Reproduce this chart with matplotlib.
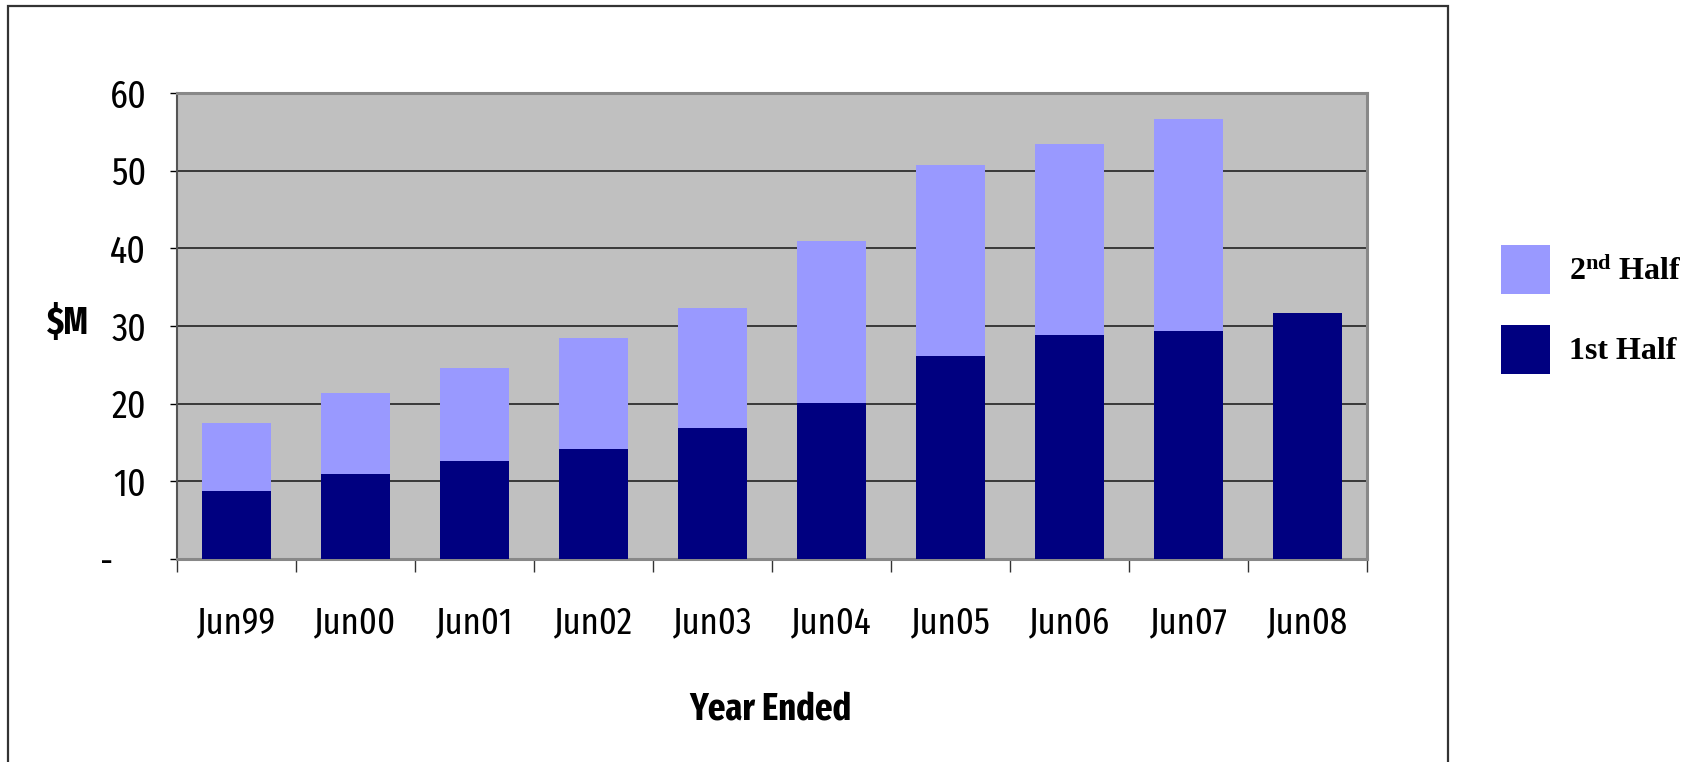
import numpy as np
import matplotlib.pyplot as plt
from matplotlib.patches import Rectangle

plt.rcParams.update({
    'font.family': ['Fira Sans Extra Condensed', 'Roboto Condensed', 'DejaVu Sans'],
    'font.stretch': 'condensed',
    'mathtext.fontset': 'custom',
    'mathtext.rm': 'Liberation Serif:bold',
    'mathtext.it': 'Liberation Serif:bold',
    'mathtext.bf': 'Liberation Serif:bold',
})

# Revenue by financial year, split into halves ($M)
years = ['Jun99', 'Jun00', 'Jun01', 'Jun02', 'Jun03',
         'Jun04', 'Jun05', 'Jun06', 'Jun07', 'Jun08']
first_half = [8.8, 11.0, 12.6, 14.2, 16.9, 20.1, 26.2, 28.9, 29.4, 31.7]
second_half = [8.7, 10.4, 12.0, 14.2, 15.4, 20.8, 24.5, 24.5, 27.2, 0.0]
y_ticks = [0, 10, 20, 30, 40, 50, 60]
y_tick_labels = ['-    ', '10', '20', '30', '40', '50', '60']

W, H = 1695, 762
fig = plt.figure(figsize=(W / 100, H / 100), dpi=100)
ax = fig.add_axes([177 / W, 1 - 559 / H, 1190 / W, 466 / H])
ax.set_facecolor('#C0C0C0')

x = np.arange(len(years))
b1 = ax.bar(x, first_half, width=0.58, color='#000080', zorder=3)
b2 = ax.bar(x, second_half, width=0.58, bottom=first_half, color='#9999FF', zorder=3)

ax.set_xlim(-0.5, len(years) - 0.5)
ax.set_ylim(0, 60)
ax.set_yticks(y_ticks)
ax.set_yticklabels(y_tick_labels)
ax.set_xticks(x)
ax.set_xticklabels(years)
ax.set_xticks(np.arange(len(years) + 1) - 0.5, minor=True)

ax.tick_params(axis='y', direction='out', length=5, width=1, pad=17, labelsize=28)
ax.tick_params(axis='x', which='major', length=0, pad=33, labelsize=27)
ax.tick_params(axis='x', which='minor', direction='out', length=9, width=1, color='#333333')

ax.yaxis.grid(True, color='#222222', linewidth=1.2, zorder=1)
ax.set_axisbelow(True)

for side in ['top', 'right', 'bottom']:
    ax.spines[side].set_color('#888888')
    ax.spines[side].set_linewidth(2.2)
ax.spines['left'].set_color('#555555')
ax.spines['left'].set_linewidth(1.5)

ax.set_ylabel('$M', fontsize=27, fontweight='bold', rotation=0, ha='center', va='center')
ax.yaxis.set_label_coords(-0.092, 0.506)
ax.set_xlabel('Year Ended', fontsize=27, fontweight='bold', va='center')
ax.xaxis.set_label_coords(0.499, -0.324)

leg = ax.legend([b2, b1], [r'$2^{nd}$ Half', '1st Half'],
                loc='center left', bbox_to_anchor=(1501 / W, 1 - 309.5 / H),
                bbox_transform=fig.transFigure, frameon=False,
                prop={'family': 'Liberation Serif', 'weight': 'bold', 'size': 23,
                      'stretch': 'normal'},
                handlelength=1.53, handleheight=1.98, handletextpad=0.6,
                labelspacing=0.95, borderpad=0, borderaxespad=0)

# outer chart frame, open at the bottom edge
fig.patches.append(Rectangle((8 / W, -0.02), 1440 / W, (H - 6) / H + 0.02,
                             transform=fig.transFigure, fill=False,
                             edgecolor='#333333', linewidth=1.6))

fig.savefig('out.png', dpi=100)
